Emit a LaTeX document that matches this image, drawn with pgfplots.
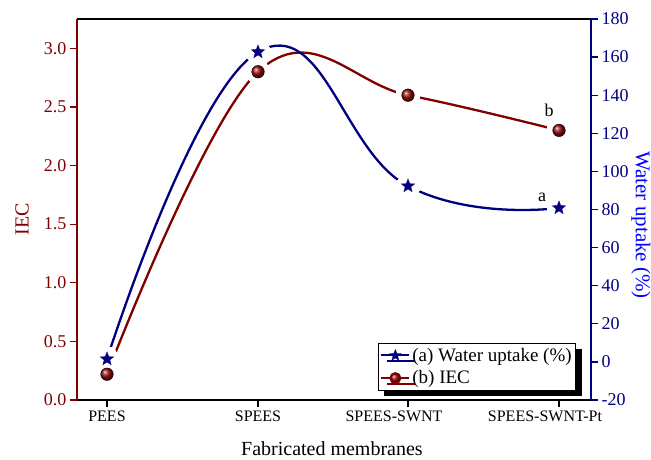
\documentclass[border=0pt]{standalone}
\usepackage{pgfplots}
\pgfplotsset{compat=1.18}
\usepackage{fontspec}
\setmainfont{Liberation Serif}
\usetikzlibrary{shadows}
\definecolor{iecred}{RGB}{128,0,0}
\definecolor{ballred}{RGB}{150,10,10}
\definecolor{wnavy}{RGB}{0,0,128}
\definecolor{wblue}{RGB}{0,0,255}
\pgfdeclareplotmark{fstar}{%
  \pgfpathmoveto{\pgfpointpolar{90}{\pgfplotmarksize}}%
  \pgfpathlineto{\pgfpointpolar{126}{0.42\pgfplotmarksize}}%
  \pgfpathlineto{\pgfpointpolar{162}{\pgfplotmarksize}}%
  \pgfpathlineto{\pgfpointpolar{198}{0.42\pgfplotmarksize}}%
  \pgfpathlineto{\pgfpointpolar{234}{\pgfplotmarksize}}%
  \pgfpathlineto{\pgfpointpolar{270}{0.42\pgfplotmarksize}}%
  \pgfpathlineto{\pgfpointpolar{306}{\pgfplotmarksize}}%
  \pgfpathlineto{\pgfpointpolar{342}{0.42\pgfplotmarksize}}%
  \pgfpathlineto{\pgfpointpolar{18}{\pgfplotmarksize}}%
  \pgfpathlineto{\pgfpointpolar{54}{0.42\pgfplotmarksize}}%
  \pgfpathclose
  \pgfusepathqfillstroke}

% x positions of the four membranes along the axis
\pgfplotstableread{
x y
107 0.22
258 2.80
408 2.60
559 2.30
}\iecdata
\pgfplotstableread{
x y
107 1.5
258 162.7
408 92.3
559 80.8
}\waterdata

\pgfplotsset{
  common/.style={scale only axis, width=514bp, height=381bp,
    at={(0,0)}, anchor=south west, xmin=77, xmax=591},
  iecaxis/.style={common, ymin=0, ymax=3.25},
  wataxis/.style={common, ymin=-20, ymax=180},
  gap/.style={only marks, mark=*, mark size=#1, mark options={draw=white, fill=white, line width=0pt}},
}

\begin{document}
\begin{tikzpicture}
\path[use as bounding box] (-77bp,-60bp) rectangle (574bp,400bp);
% --- IEC axis with its line
\begin{axis}[
  iecaxis,
  axis x line*=bottom, axis y line*=left,
  xtick={107,258,408,559},
  xticklabels={PEES,SPEES,\hspace*{-28bp}SPEES-SWNT,\hspace*{-28bp}SPEES-SWNT-Pt},
  ytick={0,0.5,1.0,1.5,2.0,2.5,3.0},
  /pgf/number format/assume math mode=true,
  yticklabel style={iecred, font=\fontsize{18bp}{21bp}\selectfont,
    /pgf/number format/.cd, fixed, fixed zerofill, precision=1},
  xticklabel style={black, font=\fontsize{16bp}{19bp}\selectfont},
  tick align=outside, major tick length=7bp,
  x axis line style={line width=1.3bp, black, -},
  y axis line style={line width=1.3bp, iecred, -},
  ytick style={iecred, line width=1.3bp},
  xtick style={black, line width=1.3bp},
  ylabel={IEC},
  ylabel style={iecred, font=\fontsize{20bp}{24bp}\selectfont,
    at={(axis description cs:-0.107,0.475)}, anchor=center},
  xlabel={Fabricated membranes},
  xlabel style={black, font=\fontsize{20bp}{24bp}\selectfont,
    at={(axis description cs:0.496,-0.128)}, anchor=center},
]
\addplot[iecred, line width=2.3bp, smooth, tension=0.65] table[x=x,y=y] {\iecdata};
\end{axis}
% --- water uptake axis with its line
\begin{axis}[
  wataxis,
  axis x line*=top, axis y line*=right,
  xtick=\empty,
  x axis line style={line width=1.3bp, black, -},
  ytick={-20,0,20,40,60,80,100,120,140,160,180},
  /pgf/number format/assume math mode=true,
  yticklabel style={wnavy, font=\fontsize{18bp}{21bp}\selectfont},
  tick align=outside, major tick length=7bp,
  y axis line style={wnavy, line width=1.3bp, -},
  ytick style={wnavy, line width=1.3bp},
  ylabel={Water uptake (\%)},
  ylabel style={wblue, font=\fontsize{21bp}{25bp}\selectfont, rotate=180,
    at={(axis description cs:1.097,0.459)}, anchor=center},
]
\addplot[wnavy, line width=2.3bp, smooth, tension=0.78] table[x=x,y=y] {\waterdata};
\end{axis}
% --- white gaps round the markers
\begin{axis}[iecaxis, hide axis]
\addplot[gap=12bp] table[x=x,y=y] {\iecdata};
\end{axis}
\begin{axis}[wataxis, hide axis]
\addplot[gap=12bp] table[x=x,y=y] {\waterdata};
\end{axis}
% --- IEC markers
\begin{axis}[iecaxis, hide axis]
\addplot[only marks, mark=ball, mark size=6.3bp, mark options={ball color=ballred}] table[x=x,y=y] {\iecdata};
\node[font=\fontsize{18bp}{21bp}\selectfont] at (axis cs:549,2.47) {b};
\end{axis}
% --- water markers, legend
\begin{axis}[wataxis, hide axis,
  legend cell align=left,
  legend style={at={(axis description cs:0.971,0.024)}, anchor=south east,
    draw=black, line width=0.8bp, fill=white,
    drop shadow={shadow xshift=6bp, shadow yshift=-6bp, fill=black, opacity=1},
    font=\fontsize{19bp}{21bp}\selectfont, inner xsep=2bp, inner ysep=3bp, row sep=4bp},
  legend image code/.code={\draw[mark repeat=2,mark phase=2,#1] plot coordinates {(0bp,0bp) (14bp,0bp) (28bp,0bp)};},
]
\addplot[only marks, mark=fstar, mark size=7bp, mark options={fill=wnavy, draw=wnavy, line width=0.4bp}, forget plot] table[x=x,y=y] {\waterdata};
\node[font=\fontsize{18bp}{21bp}\selectfont] at (axis cs:542,86.6) {a};
\addlegendimage{wnavy, line width=2bp, mark=fstar, mark size=6bp, mark options={fill=wnavy, line width=0.3bp}}
\addlegendentry{(a) Water uptake (\%)}
\addlegendimage{iecred, line width=2bp, mark=ball, mark size=5bp, mark options={ball color=ballred}}
\addlegendentry{(b) IEC}
\end{axis}
\end{tikzpicture}
\end{document}
